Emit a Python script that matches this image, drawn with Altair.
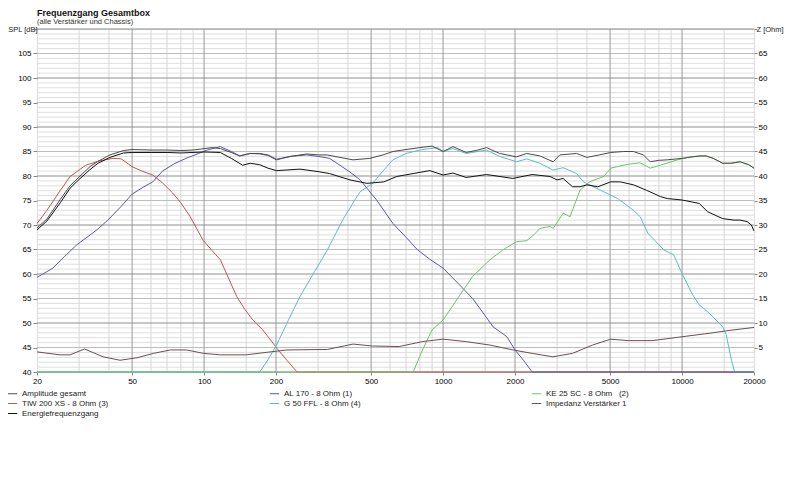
import altair as alt
import pandas as pd

# ---------------- data ----------------
amp_f = [20, 22, 25, 27.5, 30, 33.3, 36, 40.4, 46, 50, 60, 70, 80, 90, 97, 108, 117, 130, 141, 156,
         171, 185, 201, 230, 269, 300, 328, 370, 420, 494, 560, 617, 700, 800, 900, 1000, 1100, 1250,
         1400, 1520, 1725, 2030, 2240, 2540, 2890, 3080, 3620, 4000, 4500, 5030, 5700, 6260, 6890,
         7360, 8000, 8670, 10000, 11800, 12600, 13500, 14800, 16000, 17500, 19000, 20000]
amp_db = [69.4, 71.2, 75.2, 78.0, 79.8, 81.9, 83.0, 84.3, 85.2, 85.4, 85.3, 85.3, 85.2, 85.3, 85.5,
          85.8, 85.6, 84.8, 84.1, 84.6, 84.6, 84.3, 83.4, 84.0, 84.5, 84.3, 84.3, 83.8, 83.3, 83.6,
          84.3, 85.0, 85.4, 85.8, 86.1, 85.0, 86.0, 84.8, 85.3, 85.8, 84.6, 83.9, 84.6, 84.1, 82.9,
          84.3, 84.6, 83.8, 84.3, 84.8, 85.0, 85.0, 84.3, 82.9, 83.2, 83.3, 83.6, 84.1, 84.1, 83.6,
          82.6, 82.6, 82.9, 82.3, 81.6]

energy_f = [20, 22, 25, 27.5, 30, 33.3, 36, 40.4, 46, 50, 60, 70, 80, 90, 100, 117, 130, 145, 156,
            171, 185, 201, 252, 300, 335, 408, 480, 565, 640, 750, 880, 1000, 1100, 1250, 1520, 1960,
            2360, 2800, 3000, 3180, 3480, 3740, 4000, 4440, 5030, 5520, 6260, 7090, 8120, 8670,
            10000, 11800, 12800, 14800, 16500, 17500, 18700, 19500, 20000]
energy_db = [69.0, 70.8, 74.5, 77.5, 79.3, 81.3, 82.6, 83.8, 84.7, 84.8, 84.8, 84.8, 84.7, 84.8,
             84.9, 84.8, 83.6, 82.2, 82.6, 82.3, 81.6, 81.1, 81.4, 80.9, 80.5, 79.2, 78.5, 78.8,
             79.9, 80.5, 81.1, 80.2, 80.6, 79.7, 80.3, 79.5, 80.3, 79.9, 79.2, 79.5, 77.8, 77.8,
             78.2, 77.8, 78.8, 78.8, 78.2, 77.1, 75.8, 75.4, 75.1, 74.4, 72.7, 71.3, 71.0, 71.0,
             70.7, 70.0, 68.8]

tiw_f = [20, 22, 25, 27.5, 32, 36.6, 41.6, 45, 50, 55, 61, 67, 74, 80, 87.5, 99, 108, 117, 127,
         137, 148, 160, 176, 190, 202, 222, 245, 20000]
tiw_db = [70.3, 73.0, 77.0, 79.9, 82.2, 83.1, 83.6, 83.5, 81.9, 81.0, 80.2, 78.6, 76.5, 74.5, 71.7,
          66.9, 64.8, 62.9, 59.0, 55.4, 52.8, 50.6, 48.6, 46.5, 44.8, 42.4, 40.0, 40.0]

al_f = [20, 23.3, 26, 29.4, 33, 35.6, 39.6, 45, 50, 56, 61, 67, 75, 84, 95, 103, 117, 130, 141, 156,
        171, 185, 201, 230, 269, 300, 335, 370, 408, 450, 527, 617, 700, 780, 880, 1000, 1150, 1330,
        1500, 1620, 1850, 2000, 2170, 2360, 20000]
al_db = [59.3, 61.2, 63.5, 66.0, 67.8, 69.0, 71.0, 73.8, 76.3, 77.8, 78.8, 81.0, 82.5, 83.6, 84.6,
         85.3, 86.0, 85.0, 84.1, 84.6, 84.5, 84.2, 83.3, 84.0, 84.3, 84.0, 83.6, 82.2, 80.8, 79.2,
         75.1, 70.3, 67.5, 65.0, 63.0, 61.2, 58.2, 55.0, 51.5, 49.2, 47.2, 44.5, 42.4, 40.0, 40.0]

g50_f = [20, 171, 185, 201, 225, 252, 290, 328, 380, 420, 450, 508, 560, 617, 700, 800, 880, 950,
         1000, 1100, 1250, 1400, 1520, 1725, 2030, 2240, 2540, 2890, 3180, 3620, 3870, 4560, 5380,
         6260, 6680, 7200, 8400, 9220, 10000, 11000, 11800, 13000, 14800, 15300, 16100, 16600, 20000]
g50_db = [40.0, 40.0, 42.5, 45.5, 50.5, 55.4, 60.5, 64.9, 71.0, 74.5, 76.8, 78.5, 81.0, 83.3, 84.6,
          85.3, 85.6, 85.8, 85.0, 85.6, 84.6, 85.0, 85.3, 84.0, 82.9, 83.5, 82.6, 81.2, 81.7, 80.5,
          78.8, 77.1, 75.4, 73.0, 71.7, 68.3, 64.9, 63.9, 60.1, 56.0, 53.7, 52.0, 49.2, 47.6, 42.4,
          40.0, 40.0]

ke_f = [20, 750, 820, 900, 1000, 1150, 1330, 1570, 1790, 2030, 2240, 2400, 2540, 2800, 2890, 3180,
        3400, 3740, 4100, 4700, 5030, 5950, 6680, 7360, 8120, 9560, 10800, 12600, 13500, 14800,
        16000, 17500, 19000, 20000]
ke_db = [40.0, 40.0, 44.5, 48.6, 50.6, 55.0, 59.5, 62.9, 65.0, 66.6, 66.8, 68.0, 69.3, 69.7, 69.3,
         72.4, 71.7, 77.1, 78.8, 79.9, 81.6, 82.4, 82.7, 81.6, 82.2, 83.3, 83.9, 84.1, 83.6, 82.6,
         82.6, 82.9, 82.3, 81.6]

imp_f = [20, 25, 27.5, 31.6, 37.8, 44.5, 52.4, 61.4, 72.3, 84.5, 99.4, 117, 150, 189, 222, 328, 420,
         508, 655, 820, 1000, 1250, 1570, 1960, 2360, 2880, 3480, 4220, 5030, 5950, 7500, 9650,
         13000, 15300, 20000]
imp_ohm = [4.1, 3.5, 3.5, 4.7, 3.1, 2.4, 2.9, 3.8, 4.5, 4.5, 3.8, 3.5, 3.5, 4.1, 4.5, 4.6, 5.7, 5.3,
           5.2, 6.2, 6.7, 6.2, 5.5, 4.5, 3.8, 3.1, 3.8, 5.5, 6.7, 6.4, 6.4, 7.1, 7.9, 8.4, 9.1]

# series names / colours (legend order, row by row)
names = ["Amplitude gesamt", "AL 170 - 8 Ohm (1)", "KE 25 SC - 8 Ohm\u00a0\u00a0 (2)",
         "TIW 200 XS - 8 Ohm (3)", "G 50 FFL - 8 Ohm (4)", "Impedanz Verstärker 1",
         "Energiefrequenzgang"]
colors = ["#4a4a4a", "#5a5aa8", "#6cc46c", "#b45a5a", "#5cbcc8", "#6a5050", "#111111"]

x_ticks = [20, 50, 100, 200, 500, 1000, 2000, 5000, 10000, 20000]
grid_minor_f = [30, 40, 60, 70, 80, 90, 150, 300, 400, 600, 700, 800, 900, 1500,
                3000, 4000, 6000, 7000, 8000, 9000, 15000]
grid_major_f = [50, 100, 200, 500, 1000, 2000, 5000, 10000]
spl_ticks = list(range(40, 111, 5))
z_ticks = list(range(5, 71, 5))

# ---------------- build tables ----------------
spl_series = [  # drawing order
    (names[3], tiw_f, tiw_db),
    (names[4], g50_f, g50_db),
    (names[1], al_f, al_db),
    (names[2], ke_f, ke_db),
    (names[0], amp_f, amp_db),
    (names[6], energy_f, energy_db),
]
rows = []
for n, fs, vs in spl_series:
    for f, v in zip(fs, vs):
        rows.append({"series": n, "f": f, "v": v})
spl_df = pd.DataFrame(rows)
imp_df = pd.DataFrame({"series": names[5], "f": imp_f, "v": imp_ohm})

hlines = pd.DataFrame({"v": list(range(40, 111))})
hlines["level"] = ["a" if v % 10 == 0 else ("b" if v % 5 == 0 else "c") for v in hlines["v"]]
vmin = pd.DataFrame({"f": grid_minor_f})
vmaj = pd.DataFrame({"f": grid_major_f})

FONT = "Liberation Sans"
xscale = alt.Scale(type="log", domain=[20, 20000], nice=False)
x_axis = alt.Axis(values=x_ticks, format="d", title=None, grid=False, domain=False,
                  tickSize=3, labelPadding=2, labelFontSize=8, labelFlush=False)
yscale = alt.Scale(domain=[40, 110], nice=False, zero=False)
y_axis = alt.Axis(values=spl_ticks, grid=False, domain=False, tickSize=4,
                  labelPadding=2, labelFontSize=8,
                  labelExpr="datum.value == 110 ? '' : datum.label",
                  title="SPL [dB]", titleAngle=0, titleAlign="right", titleBaseline="middle",
                  titleX=0, titleY=0, titleFontSize=7.5, titleFontWeight="normal",
                  titleFont=FONT, titleColor="#222")
X = alt.X("f:Q", scale=xscale, axis=x_axis)
Y = alt.Y("v:Q", scale=yscale, axis=y_axis)

color = alt.Color("series:N", scale=alt.Scale(domain=names, range=colors),
                  legend=alt.Legend(title=None, orient="none", legendX=-30, legendY=359,
                                    direction="horizontal", columns=3, gridAlign="all",
                                    columnPadding=158, rowPadding=0, symbolType="stroke",
                                    symbolSize=90, symbolStrokeWidth=1, labelFontSize=8,
                                    labelFont=FONT, labelOffset=4, padding=0,
                                    labelColor="#222"))

g_min = alt.Chart(vmin).mark_rule(color="#d6d6d6", strokeWidth=1).encode(x=X)
g_maj = alt.Chart(vmaj).mark_rule(color="#9a9a9a", strokeWidth=1).encode(x=X)
h_c = alt.Chart(hlines).transform_filter(alt.datum.level == "c").mark_rule(
    color="#dedede", strokeWidth=1).encode(y=Y)
h_b = alt.Chart(hlines).transform_filter(alt.datum.level == "b").mark_rule(
    color="#bdbdbd", strokeWidth=1).encode(y=Y)
h_a = alt.Chart(hlines).transform_filter(alt.datum.level == "a").mark_rule(
    color="#8e8e8e", strokeWidth=1).encode(y=Y)

lines = []
for n, _, _ in spl_series:
    lines.append(alt.Chart(spl_df).transform_filter(alt.datum.series == n)
                 .mark_line(strokeWidth=1).encode(x=X, y=Y, color=color))

left = alt.layer(h_c, g_min, h_b, g_maj, h_a, *lines)

z_axis = alt.Axis(orient="right", values=z_ticks, grid=False, domain=False,
                  tickSize=3, labelPadding=1, labelFontSize=8,
                  labelExpr="datum.value == 70 ? '' : datum.label",
                  title="Z [Ohm]", titleAngle=0, titleAlign="left", titleBaseline="middle",
                  titleX=2, titleY=0, titleFontSize=7.5, titleFontWeight="normal",
                  titleFont=FONT, titleColor="#222")
right = alt.Chart(imp_df).mark_line(strokeWidth=1).encode(
    x=X,
    y=alt.Y("v:Q", scale=alt.Scale(domain=[0, 70], nice=False, zero=False), axis=z_axis),
    color=color,
)

chart = alt.layer(left, right).resolve_scale(y="independent").properties(
    width=717, height=343,
    autosize=alt.AutoSizeParams(type="none"),
    padding={"left": 29, "top": 21, "right": 32, "bottom": 70},
    title=alt.TitleParams(text="Frequenzgang Gesamtbox",
                          subtitle="(alle Verstärker und Chassis)",
                          anchor="start", frame="group", font=FONT, fontSize=9,
                          fontWeight="bold", color="#111", subtitleFont=FONT,
                          subtitleFontSize=7.5, subtitleColor="#333", offset=0,
                          subtitlePadding=0, lineHeight=9, subtitleLineHeight=8),
).configure_view(stroke="#8e8e8e", strokeWidth=1).configure_axis(
    labelFont=FONT, labelColor="#222", tickColor="#555"
).configure(background="white")

chart.save("out.html", embed_options={"renderer": "svg", "actions": False})
